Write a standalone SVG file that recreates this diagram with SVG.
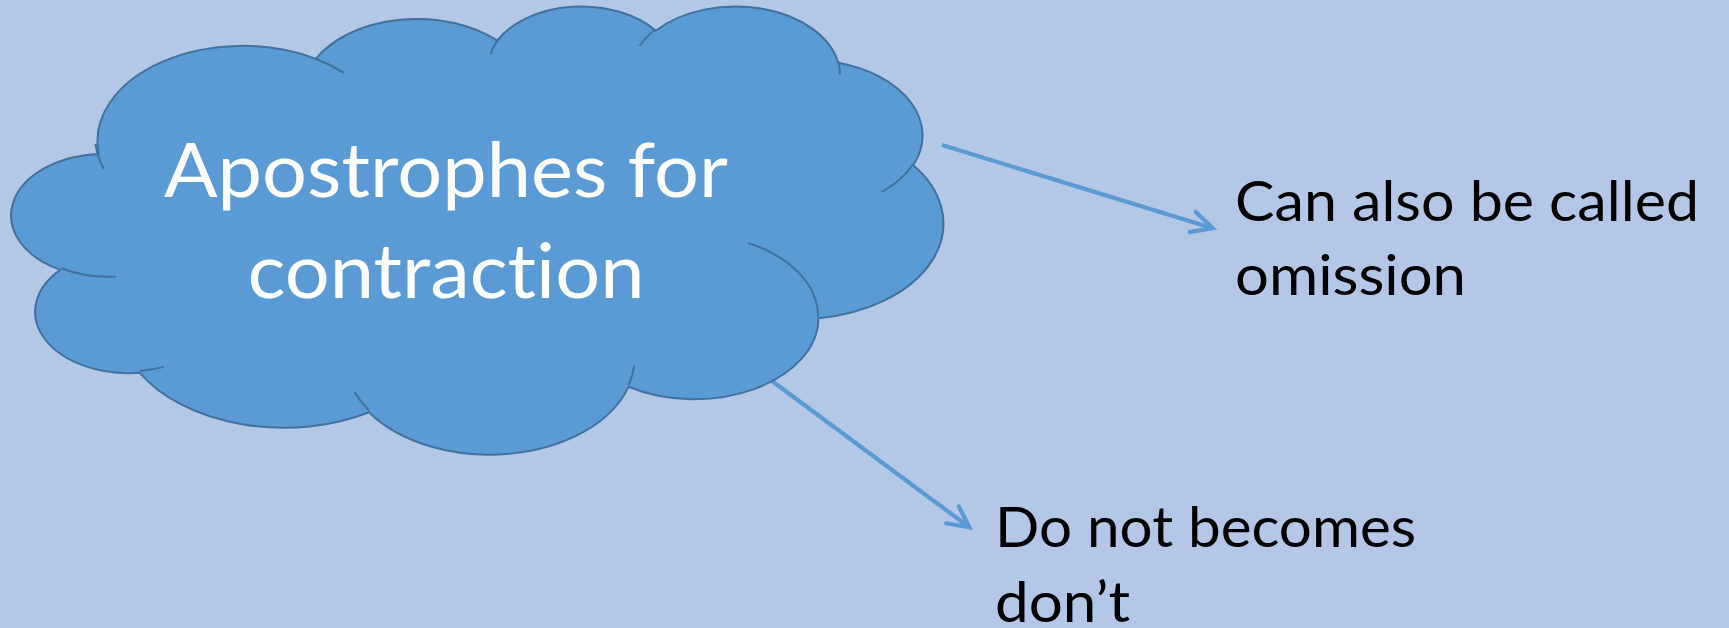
<svg xmlns="http://www.w3.org/2000/svg" width="1729" height="628" viewBox="0 0 1729 628">
<style>
.bg{fill:#B4C7E7}
.cloud{fill:#5B9BD5;stroke:#41719C;stroke-width:2;stroke-linejoin:round}
.cloud-inner{fill:none;stroke:#41719C;stroke-width:2}
.title{font-family:Lato,"Open Sans","Liberation Sans",sans-serif;font-size:75px;fill:#FFFFFF;font-variant-ligatures:none;font-feature-settings:"liga" 0,"clig" 0}
.label{font-family:Lato,"Open Sans","Liberation Sans",sans-serif;font-size:56px;fill:#000000;font-variant-ligatures:none;font-feature-settings:"liga" 0,"clig" 0}
.conn{fill:none;stroke:#5B9BD5;stroke-width:4.25}
.head{fill:none;stroke:#5B9BD5;stroke-width:4.25;stroke-linecap:round;stroke-linejoin:miter}
</style>
<defs>
<marker id="arrow" markerUnits="userSpaceOnUse" orient="auto" viewBox="-30 -16 36 32" markerWidth="36" markerHeight="32" refX="0" refY="0">
<path class="head" d="M -21 -10.5 L 0 0 L -21 10.5"/>
</marker>
</defs>
<rect class="bg" x="0" y="0" width="1729" height="628"/>
<g id="connectors">
<line class="conn" x1="942" y1="145" x2="1212.8" y2="228.2" marker-end="url(#arrow)"/>
<line class="conn" x1="772" y1="381" x2="969.4" y2="527.3" marker-end="url(#arrow)"/>
</g>
<g id="node-cloud">
<path class="cloud" d="M 98.8 154.0 A 145.06 95.30 0 0 1 315.8 58.9 A 114.56 75.36 0 0 1 497.4 40.6 A 93.76 61.65 0 0 1 655.8 30.7 A 104.33 68.39 0 0 1 838.1 62.8 A 114.56 75.42 0 0 1 913.3 165.3 A 145.53 95.61 0 0 1 818.5 318.2 A 124.27 81.58 0 0 1 628.4 386.8 A 145.04 95.56 0 0 1 369.0 412.2 A 165.83 109.33 0 0 1 139.7 372.8 A 93.66 61.37 0 0 1 60.4 269.9 A 93.33 61.65 0 0 1 98.8 154.0 Z"/>
<path class="cloud-inner" d="M 115.8 276.5 A 93.33 61.65 0 0 1 61.4 268.2 M 163.8 366.9 A 93.66 61.37 0 0 1 140.0 370.9 M 369.0 410.4 A 145.04 95.56 0 0 1 354.6 392.3 M 634.2 365.4 A 145.04 95.56 0 0 1 628.5 385.2 M 748.1 243.0 A 124.27 81.58 0 0 1 818.0 317.0 M 912.9 164.2 A 114.56 75.42 0 0 1 881.8 192.0 M 838.2 61.3 A 104.33 68.39 0 0 1 839.9 74.4 M 639.6 46.0 A 104.33 68.39 0 0 1 655.6 29.3 M 490.6 53.9 A 93.76 61.65 0 0 1 503.9 33.2 M 315.7 58.8 A 145.06 95.30 0 0 1 343.7 72.8 M 103.7 168.7 A 145.06 95.30 0 0 1 95.5 143.9"/>
<text class="title" x="446" y="197" text-anchor="middle" textLength="564" lengthAdjust="spacingAndGlyphs">Apostrophes for</text>
<text class="title" x="446" y="298" text-anchor="middle" textLength="397" lengthAdjust="spacingAndGlyphs">contraction</text>
</g>
<g id="node-omission">
<text class="label" x="1235" y="221" textLength="464" lengthAdjust="spacingAndGlyphs">Can also be called</text>
<text class="label" x="1235" y="295" textLength="231" lengthAdjust="spacingAndGlyphs">omission</text>
</g>
<g id="node-dont">
<text class="label" x="995" y="547" textLength="421" lengthAdjust="spacingAndGlyphs">Do not becomes</text>
<text class="label" x="995" y="622" textLength="135" lengthAdjust="spacingAndGlyphs">don’t</text>
</g>
</svg>
